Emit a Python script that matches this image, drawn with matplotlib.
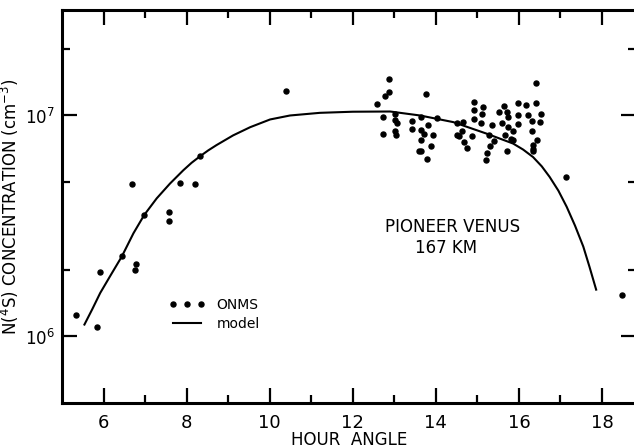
import numpy as np
import matplotlib
matplotlib.use("Agg")
import matplotlib.pyplot as plt
from matplotlib.ticker import FixedLocator, FixedFormatter

plt.rcParams['font.family'] = ['DejaVu Sans']

# ONMS measurements: hour angle, log10 concentration (cm^-3)
onms_hour = [5.34, 5.84, 5.92, 6.44, 6.69, 6.76, 6.78, 6.98, 7.58, 7.58, 7.84, 8.19, 8.32, 10.39,
             12.59, 12.72, 12.72, 12.78, 12.87, 12.88, 13.02, 13.02, 13.06, 13.02, 13.04,
             13.43, 13.43, 13.64, 13.64, 13.76, 13.82, 13.72, 13.94, 13.64, 13.88, 13.64, 13.60,
             13.79, 14.02, 14.52, 14.66, 14.52, 14.56, 14.64, 14.67, 14.75, 14.86, 14.92, 14.92,
             14.92, 15.10, 15.14, 15.09, 15.35, 15.28, 15.30, 15.22, 15.21, 15.41, 15.53, 15.63,
             15.59, 15.72, 15.73, 15.73, 15.67, 15.87, 15.81, 15.87, 15.72, 15.99, 15.99, 15.98,
             16.17, 16.23, 16.32, 16.32, 16.42, 16.42, 16.53, 16.51, 16.44, 16.33, 16.33, 16.33,
             17.14, 18.48]
onms_log = [6.099, 6.042, 6.294, 6.362, 6.689, 6.299, 6.327, 6.550, 6.562, 6.523, 6.695, 6.692, 6.815, 7.113,
            7.053, 6.992, 6.914, 7.086, 7.108, 7.164, 7.008, 6.981, 6.965, 6.929, 6.911,
            6.977, 6.938, 6.995, 6.935, 7.099, 6.955, 6.917, 6.911, 6.887, 6.860, 6.838, 6.838,
            6.802, 6.989, 6.965, 6.970, 6.910, 6.905, 6.932, 6.880, 6.854, 6.905, 7.060, 7.023,
            6.985, 7.008, 7.037, 6.965, 6.955, 6.910, 6.860, 6.830, 6.800, 6.885, 7.015, 7.042,
            6.968, 7.018, 6.992, 6.950, 6.910, 6.929, 6.895, 6.890, 6.838, 7.055, 7.000, 6.962,
            7.047, 7.000, 6.974, 6.932, 7.055, 7.146, 7.008, 6.970, 6.887, 6.865, 6.850, 6.840,
            6.722, 6.189]

# model curve
model_hour = [5.54, 5.73, 5.92, 6.18, 6.44, 6.72, 6.98, 7.28, 7.60, 7.92, 8.12, 8.32, 8.52, 8.72,
              9.12, 9.53, 10.01, 10.49, 11.21, 12.00, 12.90, 13.62, 14.42, 15.22, 15.86, 16.10,
              16.34, 16.55, 16.74, 16.95, 17.15, 17.35, 17.55, 17.70, 17.86]
model_log = [6.054, 6.124, 6.197, 6.280, 6.362, 6.467, 6.550, 6.625, 6.692, 6.752, 6.786, 6.815, 6.842, 6.866,
             6.910, 6.947, 6.982, 7.000, 7.012, 7.017, 7.018, 7.000, 6.970, 6.918, 6.873, 6.846,
             6.812, 6.770, 6.722, 6.660, 6.587, 6.502, 6.407, 6.315, 6.212]

x_major = [6, 8, 10, 12, 14, 16, 18]
x_minor = [7, 9, 11, 13, 15, 17]
y_major = [1e6, 1e7]
y_minor = [2e6, 5e6, 2e7]

fig = plt.figure(figsize=(6.34, 4.48), dpi=100)
ax = fig.add_axes([0.0978, 0.1004, 0.9054, 0.8772])

dots, = ax.plot(onms_hour, 10 ** np.array(onms_log), 'o', color='black', ms=3.6, ls='none')
line, = ax.plot(model_hour, 10 ** np.array(model_log), '-', color='black', lw=1.5)

ax.set_yscale('log')
ax.set_xlim(5.0, 18.82)
ax.set_ylim(5e5, 3e7)

ax.xaxis.set_major_locator(FixedLocator(x_major))
ax.xaxis.set_minor_locator(FixedLocator(x_minor))
ax.yaxis.set_major_locator(FixedLocator(y_major))
ax.yaxis.set_minor_locator(FixedLocator(y_minor))
ax.yaxis.set_major_formatter(FixedFormatter([r'$10^6$', r'$10^7$']))
ax.yaxis.set_minor_formatter(FixedFormatter(['', '', '']))

ax.tick_params(which='both', direction='in', top=True, right=True, width=1.6, colors='black')
ax.tick_params(which='major', length=11)
ax.tick_params(which='minor', length=5.5)
ax.tick_params(axis='x', which='major', labelsize=13, pad=8)
ax.tick_params(axis='y', which='major', labelsize=12, pad=5)

for side in ['left', 'bottom', 'top', 'right']:
    ax.spines[side].set_linewidth(2.2)

ax.set_xlabel('HOUR  ANGLE', fontsize=12, labelpad=-1)
ax.set_ylabel(r'N($^4$S) CONCENTRATION (cm$^{-3}$)', fontsize=12, labelpad=3)

ax.text(0.563, 0.448, 'PIONEER VENUS', transform=ax.transAxes, fontsize=12, va='center')
ax.text(0.615, 0.394, '167 KM', transform=ax.transAxes, fontsize=12, va='center')

ax.legend([dots, line], ['ONMS', 'model'], numpoints=3, frameon=False, fontsize=10,
          handlelength=2.6, loc='upper left', bbox_to_anchor=(0.165, 0.30), labelspacing=0.4)

fig.savefig('out.png', dpi=100)
